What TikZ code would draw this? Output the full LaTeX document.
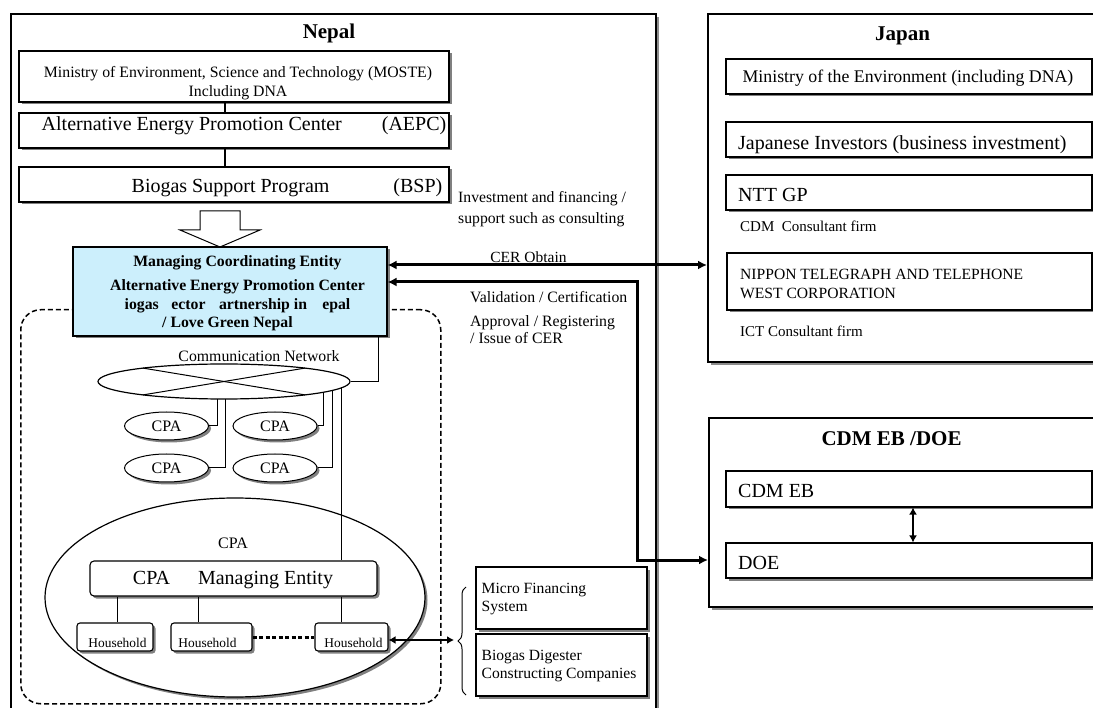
\documentclass[tikz,border=0pt]{standalone}
\usepackage{fontspec}
\setmainfont{Liberation Serif}
\usetikzlibrary{shadows,arrows.meta,decorations.pathreplacing,calc,shapes.geometric}
\newcommand{\fz}[2]{\fontsize{#1}{#2}\selectfont}
\begin{document}
\begin{tikzpicture}[x=1pt,y=-1pt,
  shd/.style={drop shadow={shadow xshift=2.5pt, shadow yshift=-2.5pt, fill=black!50, opacity=1}},
  box/.style={draw, line width=1.1pt, fill=white, inner sep=0pt, shd},
  panel/.style={draw, line width=1.8pt, fill=white, inner sep=0pt, anchor=north west,
     drop shadow={shadow xshift=3pt, shadow yshift=-3pt, fill=black!45, opacity=1}},
  rbox/.style={box, rounded corners=4pt},
  oval/.style={ellipse, draw, line width=1pt, fill=white, inner sep=0pt, shd},
  txt/.style={inner sep=0pt, font=\fz{15.8}{19}},
  ttl/.style={inner sep=0pt, font=\bfseries\fz{21}{25}},
  big/.style={inner sep=0pt, font=\fz{20}{24}},
  thickarrow/.style={line width=3pt, {Latex[length=9pt,width=9pt]}-{Latex[length=9pt,width=9pt]}},
  midarrow/.style={line width=1.8pt, {Latex[length=7pt,width=8pt]}-{Latex[length=7pt,width=8pt]}},
  conn/.style={line width=1pt},
  blockarrow/.style={draw, line width=1pt, fill=white},
  grpframe/.style={draw, line width=1.5pt, dash pattern=on 5pt off 3pt, rounded corners=20pt, inner sep=0pt, anchor=north west}
]
\useasboundingbox (0,0) rectangle (1093,708);
\clip (0,0) rectangle (1093,708);

% panels
\node[panel, minimum width=645pt, minimum height=740pt] (nepal) at (10,13) {};
\node[panel, minimum width=420pt, minimum height=348pt] (japan) at (707,13) {};
\node[panel, minimum width=420pt, minimum height=189pt] (cdmp) at (708,417) {};

\node[ttl] (nepalT) at (329,33) {Nepal};
\node[ttl] (japanT) at (902.5,35.5) {Japan};
\node[ttl] (cdmT) at (891.5,438.5) {CDM EB /DOE};

% Nepal hierarchy
\coordinate (vx) at (225,0);
\node[box, minimum width=430pt, minimum height=51pt] (moste) at (234,76.5) {};
\node[txt, align=center] (mosteT) at (238,83) {Ministry of Environment, Science and Technology (MOSTE)\\Including DNA};
\node[box, minimum width=430pt, minimum height=35pt] (aepc) at (234,130.5) {};
\node[big] (aepcT) at (244,126) {Alternative Energy Promotion Center\hspace{40pt}(AEPC)};
\node[box, minimum width=430pt, minimum height=35pt] (bsp) at (234,184.5) {};
\node[big] (bspT) at (287,188) {Biogas Support Program\hspace{64pt}(BSP)};
\draw[conn, line width=1.5pt] (moste.south -| vx) -- (aepc.north -| vx);
\draw[conn, line width=1.5pt] (aepc.south -| vx) -- (bsp.north -| vx);

% group frame
\node[grpframe, minimum width=420pt, minimum height=394pt] (grp) at (20,309) {};

% block arrow
\coordinate (arrtip) at (220,247);
\draw[blockarrow] (arrtip) -- ++(40,-17) -- ++(-20,0) -- ++(0,-19) -- ++(-40,0) -- ++(0,19) -- ++(-20,0) -- cycle;

% MCE
\node[box, fill=cyan!20, minimum width=314pt, minimum height=89pt] (mce) at (230,291.5) {};
\node[txt, font=\bfseries\fz{15.75}{18.5}, align=center] (mceT) at (237.5,293.5)
  {Managing Coordinating Entity\\[5.5pt]Alternative Energy Promotion Center\\iogas\ \phantom{S}ector\ \phantom{P}artnership in\ \phantom{N}epal\\/ Love Green Nepal\hspace*{20pt}};

% big CPA
\node[oval, line width=1.2pt, minimum width=380pt, minimum height=199pt] (cpabig) at (235,597.5) {};
\node[txt, font=\fz{16}{19}] (cpabigT) at (233,543) {CPA};

% small CPAs
\node[oval, minimum width=84pt, minimum height=28pt, font=\fz{16}{19}] (cpa1) at (166.5,426) {CPA};
\node[oval, minimum width=84pt, minimum height=28pt, font=\fz{16}{19}] (cpa2) at (275,426) {CPA};
\node[oval, minimum width=84pt, minimum height=28pt, font=\fz{16}{19}] (cpa3) at (166.5,468) {CPA};
\node[oval, minimum width=84pt, minimum height=28pt, font=\fz{16}{19}] (cpa4) at (275,468) {CPA};

% CPA managing entity
\node[rbox, minimum width=287pt, minimum height=35pt] (cme) at (233.5,578.5) {};
\node[big] (cmeT) at (233,580) {CPA\hspace{28pt}Managing Entity};

% households
\node[rbox, rounded corners=3pt, minimum width=76pt, minimum height=28pt] (hh1) at (115,637) {};
\node[rbox, rounded corners=3pt, minimum width=81pt, minimum height=28pt] (hh2) at (211.5,637) {};
\node[rbox, rounded corners=3pt, minimum width=73pt, minimum height=28pt] (hh3) at (351.5,637) {};
\node[txt, font=\fz{13.4}{16}] (hh1T) at (117.5,643) {Household};
\node[txt, font=\fz{13.4}{16}] (hh2T) at (207.5,643) {Household};
\node[txt, font=\fz{13.4}{16}] (hh3T) at (353.5,643) {Household};
\coordinate (hx1) at (117,0);
\coordinate (hx2) at (198,0);
\coordinate (hx3) at (341,0);
\draw[conn] (cme.south -| hx1) -- (hh1.north -| hx1);
\draw[conn] (cme.south -| hx2) -- (hh2.north -| hx2);
\draw[conn] (cme.south -| hx3) -- (hh3.north -| hx3);
\draw[line width=3pt, dash pattern=on 4pt off 2.5pt] (hh2.east) -- (hh3.west);

% network connectors (drawn before the network ellipse covers their tops)
\coordinate (netc) at (224,381.5);
\coordinate (nx1) at (217,0);
\coordinate (nx2) at (225,0);
\coordinate (nx3) at (323,0);
\coordinate (nx4) at (332,0);
\draw[conn] (netc -| nx1) |- (cpa1.east);
\draw[conn] (netc -| nx2) |- (cpa3.east);
\draw[conn] (netc -| nx3) |- (cpa2.east);
\draw[conn] (netc -| nx4) |- (cpa4.east);
\draw[conn] (netc -| hx3) -- (cme.north -| hx3);

\node[ellipse, draw, line width=1.2pt, fill=white, inner sep=0pt, minimum width=252pt, minimum height=35pt] (net) at (netc) {};
\draw[conn] ($(net.center)+(130:126 and 17.5)$) -- ($(net.center)+(-50:126 and 17.5)$);
\draw[conn] ($(net.center)+(-130:126 and 17.5)$) -- ($(net.center)+(50:126 and 17.5)$);
\node[txt] (netT) at (259,356.5) {Communication Network};
\coordinate (ml) at (378,0);
\draw[conn] (mce.south -| ml) |- (net.east);

% side boxes
\node[box, minimum width=171pt, minimum height=62pt] (mfs) at (561.5,598) {};
\node[txt, align=left, anchor=west, font=\fz{15.6}{18.5}] (mfsT) at (481.5,599) {Micro Financing\\System};
\node[box, minimum width=171pt, minimum height=62pt] (bdc) at (561.5,665) {};
\node[txt, align=left, anchor=west, font=\fz{15.6}{18.5}] (bdcT) at (481.5,666) {Biogas Digester\\Constructing Companies};
\coordinate (bx1) at (466,695);
\coordinate (bx2) at (466,587);
\draw[line width=1pt, decorate, decoration={brace, amplitude=8pt}] (bx1) -- (bx2);
\coordinate (btip) at (454,640);
\draw[midarrow] (hh3.east |- btip) -- (btip);

% Japan
\node[box, minimum width=366pt, minimum height=35pt] (moe) at (909,76.5) {};
\node[big, font=\fz{17.8}{21}] (moeT) at (908,78.5) {Ministry of the Environment (including DNA)};
\node[box, minimum width=366pt, minimum height=35pt] (ji) at (909,139.5) {};
\node[big, anchor=west] (jiT) at (738,145) {Japanese Investors (business investment)};
\node[box, minimum width=366pt, minimum height=35pt] (ntt) at (909,192.5) {};
\node[big, anchor=west] (nttT) at (738,195) {NTT GP};
\node[txt, anchor=west, font=\fz{15}{18}] (cdmcT) at (740,226) {CDM\ \ Consultant firm};
\node[box, minimum width=365pt, minimum height=57pt] (nippon) at (909.5,281.5) {};
\node[txt, align=left, anchor=west, font=\fz{15.6}{19}] (nipT) at (740,283.5) {NIPPON TELEGRAPH AND TELEPHONE\\WEST CORPORATION};
\node[txt, anchor=west, font=\fz{15}{18}] (ictT) at (740,331) {ICT Consultant firm};

% CDM EB / DOE
\node[box, minimum width=366pt, minimum height=36pt] (cdmeb) at (909,489) {};
\node[big, anchor=west] (cdmebT) at (738,491) {CDM EB};
\node[box, minimum width=366pt, minimum height=35pt] (doe) at (909,560.5) {};
\node[big, anchor=west] (doeT) at (738,563) {DOE};
\coordinate (dx) at (913,0);
\draw[midarrow] (cdmeb.south -| dx) -- (doe.north -| dx);

% main arrows
\coordinate (cerY) at (0,265);
\coordinate (valY) at (0,282);
\coordinate (valX) at (637,0);
\coordinate (doeY) at (0,560);
\draw[thickarrow] (mce.east |- cerY) -- (japan.west |- cerY);
\draw[thickarrow] (mce.east |- valY) -| (valX |- doeY) -- (cdmp.west |- doeY);

% labels
\node[txt, align=left, anchor=west, font=\fz{15.7}{21.5}] (invT) at (458,209) {Investment and financing /\\support such as consulting};
\node[txt, font=\fz{15.5}{18}] (cerT) at (528.5,257.5) {CER Obtain};
\node[txt, align=left, anchor=west, font=\fz{15.8}{17.5}] (valT) at (470,318) {Validation / Certification\\[6pt]Approval / Registering\\/ Issue of CER};
\end{tikzpicture}
\end{document}
